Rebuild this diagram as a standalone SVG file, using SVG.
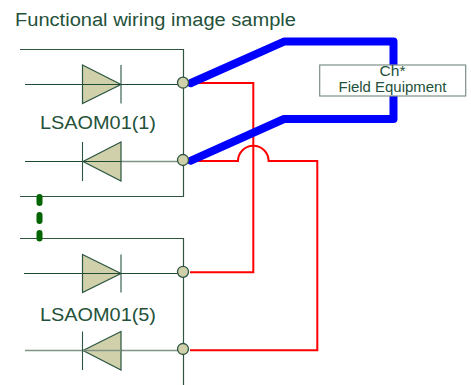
<svg xmlns="http://www.w3.org/2000/svg" width="471" height="385" viewBox="0 0 471 385">
<style>
text{font-family:"Liberation Sans",Arial,sans-serif;fill:#24513a}
.w{fill:none;stroke:#2f5540;stroke-width:1.2}
.lead{fill:none;stroke:#1f4a33;stroke-width:1.1}
.soft{stroke:#7f9486;stroke-width:1.6}
.tri{fill:#d0d0aa;stroke:#2a5540;stroke-width:1.2;stroke-linejoin:miter}
.bar{stroke:#2a5540;stroke-width:1.1}
.port{fill:#d0d0aa;stroke:#2f5540;stroke-width:1.3}
.red{fill:none;stroke:#f00;stroke-width:2}
.blue{fill:none;stroke:#00f;stroke-width:8;stroke-linecap:round;stroke-linejoin:round}
.dash{fill:none;stroke:#006400;stroke-width:6;stroke-linecap:round}
</style>
<text x="15" y="26" font-size="18" textLength="281" lengthAdjust="spacingAndGlyphs">Functional wiring image sample</text>
<g id="connectors">
<path class="red" d="M190 83H253.300V272.300H190"/>
<path class="red" d="M190 161H238A15.300 15.300 0 0 1 268.600 161H317.300V350.300H190"/>
<path class="blue" d="M191 83L284 41.600H393.500V119H284L191 160.700"/>
</g>
<g id="module1-frame"><path class="w" d="M20 49.500H183.500V196.500H20"/></g>
<g id="module5-frame"><path class="w" d="M20 238.500H183.500V385"/></g>
<g id="diode1">
<path class="lead" d="M25 84.500H183"/>
<path class="tri" d="M82.500 65L121 84.500L82.500 103.500Z"/>
<path class="lead" d="M82.500 84.500H121"/>
<path class="bar" d="M121 65V103.500"/>
</g>
<g id="diode2">
<path class="lead" d="M25 161.500H121"/>
<path class="lead soft" d="M121 161.500H183"/>
<path class="tri" d="M121 142L83 161.500L121 181Z"/>
<path class="lead" d="M83 161.500H121"/>
<path class="bar" d="M82.500 142V181"/>
</g>
<g id="diode3">
<path class="lead" d="M24 273.500H183"/>
<path class="tri" d="M82.500 254.500L121 273.500L82.500 292.500Z"/>
<path class="lead" d="M82.500 273.500H121"/>
<path class="bar" d="M121 254.500V292.500"/>
</g>
<g id="diode4">
<path class="lead soft" d="M25 350.500H183"/>
<path class="tri" d="M121 331.500L83 350.500L121 370Z"/>
<path class="lead soft" d="M83 350.500H121"/>
<path class="bar" d="M82.500 331.500V370"/>
</g>
<g id="port1"><circle class="port" cx="183" cy="82.700" r="5.500"/></g>
<g id="port2"><circle class="port" cx="183" cy="160" r="5.500"/></g>
<g id="port3"><circle class="port" cx="183" cy="271.800" r="5.500"/></g>
<g id="port4"><circle class="port" cx="183" cy="349" r="5.500"/></g>
<g id="label1"><text x="98" y="129" font-size="18" text-anchor="middle" textLength="116" lengthAdjust="spacingAndGlyphs">LSAOM01(1)</text></g>
<g id="label5"><text x="98" y="321" font-size="18" text-anchor="middle" textLength="116" lengthAdjust="spacingAndGlyphs">LSAOM01(5)</text></g>
<g id="ellipsis"><path class="dash" d="M39.500 197V203M39.500 215V221M39.500 233V238.500"/></g>
<g id="field-equipment">
<rect x="319.700" y="65" width="146" height="31" fill="#fff" stroke="#7d9186" stroke-width="1.200"/>
<text x="392.500" y="76" font-size="14" text-anchor="middle" textLength="26" lengthAdjust="spacingAndGlyphs">Ch*</text>
<text x="392.500" y="92" font-size="14" text-anchor="middle" textLength="108" lengthAdjust="spacingAndGlyphs">Field Equipment</text>
</g>
</svg>
